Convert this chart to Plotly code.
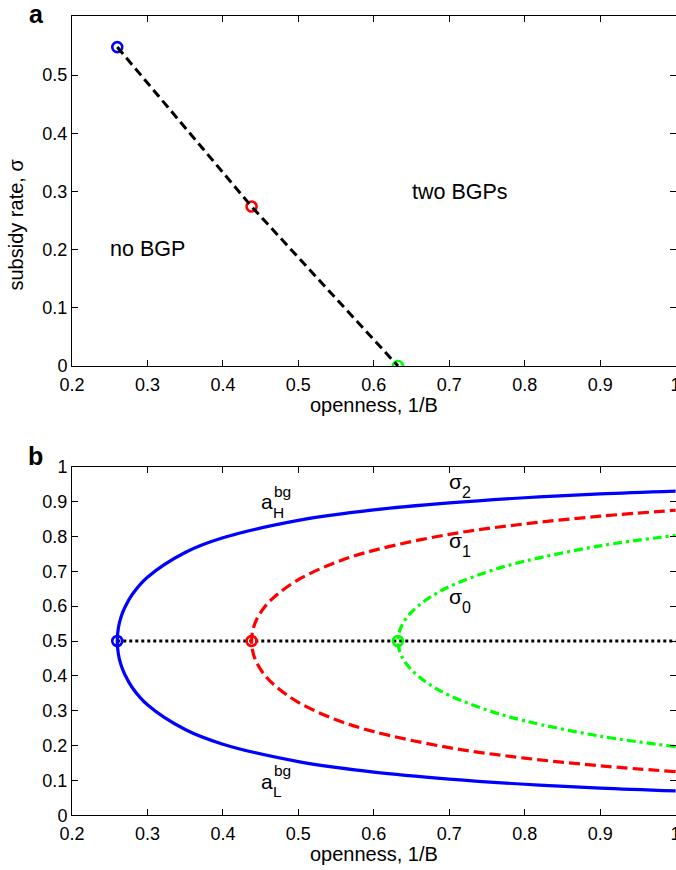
import plotly.graph_objects as go

# ---------------- data ----------------
# panel a: boundary between "no BGP" and "two BGPs"
a_openness = [0.26, 0.438, 0.632]
a_sigma = [0.548, 0.274, 0.0]
a_colors = ["#0000ff", "#ff0000", "#00ff00"]

# panel b: BGP branches a_H (upper) and a_L (lower) for three subsidy rates
blue_x = [0.26, 0.2615, 0.265, 0.27, 0.28, 0.30, 0.35, 0.40, 0.50, 0.60, 0.70, 0.80, 0.90, 1.00]
blue_upper = [0.500, 0.538, 0.569, 0.596, 0.634, 0.683, 0.754, 0.796, 0.846, 0.876, 0.896, 0.911, 0.922, 0.930]
blue_lower = [0.500, 0.462, 0.431, 0.404, 0.366, 0.317, 0.246, 0.204, 0.154, 0.124, 0.104, 0.089, 0.078, 0.070]

red_x = [0.438, 0.44, 0.445, 0.455, 0.47, 0.50, 0.55, 0.60, 0.70, 0.80, 0.90, 1.00]
red_upper = [0.500, 0.534, 0.563, 0.597, 0.630, 0.676, 0.726, 0.760, 0.806, 0.836, 0.858, 0.875]
red_lower = [0.500, 0.466, 0.437, 0.403, 0.370, 0.324, 0.274, 0.240, 0.194, 0.164, 0.142, 0.125]

green_x = [0.632, 0.634, 0.64, 0.65, 0.67, 0.70, 0.75, 0.80, 0.90, 1.00]
green_upper = [0.500, 0.528, 0.556, 0.583, 0.619, 0.656, 0.698, 0.729, 0.773, 0.803]
green_lower = [0.500, 0.472, 0.444, 0.417, 0.381, 0.344, 0.302, 0.271, 0.227, 0.197]

mid_x = [0.26, 1.0]
mid_a = [0.5, 0.5]

x_ticks = [0.2, 0.3, 0.4, 0.5, 0.6, 0.7, 0.8, 0.9, 1.0]
x_ticktext = ["0.2", "0.3", "0.4", "0.5", "0.6", "0.7", "0.8", "0.9", "1"]
ya_ticks = [0, 0.1, 0.2, 0.3, 0.4, 0.5]
ya_ticktext = ["0", "0.1", "0.2", "0.3", "0.4", "0.5"]
yb_ticks = [0, 0.1, 0.2, 0.3, 0.4, 0.5, 0.6, 0.7, 0.8, 0.9, 1.0]
yb_ticktext = ["0", "0.1", "0.2", "0.3", "0.4", "0.5", "0.6", "0.7", "0.8", "0.9", "1"]

# ---------------- figure ----------------
FONT = "Liberation Sans, Arial, Helvetica, sans-serif"
W, H = 676, 870

fig = go.Figure()

marker_style = dict(symbol="circle-open", size=10, color=a_colors,
                    line=dict(width=2.6, color=a_colors))

# panel a
fig.add_trace(go.Scatter(x=a_openness, y=a_sigma, mode="markers", marker=marker_style,
                         xaxis="x", yaxis="y", hoverinfo="skip"))
fig.add_trace(go.Scatter(x=a_openness, y=a_sigma, mode="lines",
                         line=dict(color="black", width=3, dash="9px,5px"),
                         xaxis="x", yaxis="y", hoverinfo="skip"))

# panel b
def branch(xs, lower, upper):
    return xs[::-1] + xs[1:], lower[::-1] + upper[1:]

bx, by = branch(blue_x, blue_lower, blue_upper)
rx, ry = branch(red_x, red_lower, red_upper)
gx, gy = branch(green_x, green_lower, green_upper)

fig.add_trace(go.Scatter(x=mid_x, y=mid_a, mode="lines",
                         line=dict(color="black", width=3, dash="3px,3px"),
                         xaxis="x2", yaxis="y2", hoverinfo="skip"))
fig.add_trace(go.Scatter(x=bx, y=by, mode="lines", line=dict(color="#0000ff", width=3.2, shape="spline"),
                         xaxis="x2", yaxis="y2", hoverinfo="skip"))
fig.add_trace(go.Scatter(x=rx, y=ry, mode="lines",
                         line=dict(color="#ff0000", width=3.2, dash="11px,5px", shape="spline"),
                         xaxis="x2", yaxis="y2", hoverinfo="skip"))
fig.add_trace(go.Scatter(x=gx, y=gy, mode="lines",
                         line=dict(color="#00ff00", width=3.2, dash="9px,4px,3px,4px", shape="spline"),
                         xaxis="x2", yaxis="y2", hoverinfo="skip"))
fig.add_trace(go.Scatter(x=[blue_x[0], red_x[0], green_x[0]],
                         y=[blue_upper[0], red_upper[0], green_upper[0]], mode="markers",
                         marker=marker_style, xaxis="x2", yaxis="y2", hoverinfo="skip"))

axis_common = dict(showline=True, linecolor="black", linewidth=1, mirror="ticks",
                   ticks="inside", ticklen=6, tickwidth=1, tickcolor="black",
                   showgrid=False, zeroline=False, automargin=False,
                   ticklabeloverflow="allow",
                   tickfont=dict(family=FONT, size=18, color="black"))

xdom = [72 / W, 1.0]
XR = [0.2, 1.0005]
fig.update_layout(
    width=W, height=H, margin=dict(l=0, r=0, t=0, b=0),
    paper_bgcolor="white", plot_bgcolor="white", showlegend=False,
    xaxis=dict(domain=xdom, range=XR, tickvals=x_ticks, ticktext=x_ticktext,
               anchor="y", ticklabelstandoff=2, **axis_common),
    yaxis=dict(domain=[(H - 366) / H, (H - 16) / H], range=[0, 0.6014], tickvals=ya_ticks,
               ticktext=ya_ticktext, anchor="x", **axis_common),
    xaxis2=dict(domain=xdom, range=XR, tickvals=x_ticks, ticktext=x_ticktext,
                anchor="y2", ticklabelstandoff=2, **axis_common),
    yaxis2=dict(domain=[(H - 815.3) / H, (H - 466.7) / H], range=[0, 1], tickvals=yb_ticks,
                ticktext=yb_ticktext, anchor="x2", **axis_common),
)

def ann(text, x, y, xref, yref, size, bold=False, angle=0):
    fig.add_annotation(text=("<b>%s</b>" % text) if bold else text, x=x, y=y, xref=xref, yref=yref,
                       showarrow=False, xanchor="center", yanchor="middle", textangle=angle,
                       font=dict(family=FONT, size=size, color="black"))

# panel letters and axis titles
ann("a", 36.3 / W, 1 - 14 / H, "paper", "paper", 25, bold=True)
ann("b", 35.5 / W, 1 - 456.3 / H, "paper", "paper", 25, bold=True)
ann("subsidy rate, σ", 15.5 / W, 1 - 225 / H, "paper", "paper", 20, angle=-90)
ann("openness, 1/B", 374 / W, 1 - 405 / H, "paper", "paper", 20)
ann("openness, 1/B", 374 / W, 1 - 854 / H, "paper", "paper", 20)

# panel a region labels
ann("no BGP", 0.300, 0.201, "x", "y", 21.5)
ann("two BGPs", 0.714, 0.299, "x", "y", 21.5)

# panel b curve labels
ann("a", 0.459, 0.900, "x2", "y2", 21)
ann("bg", 0.4785, 0.9294, "x2", "y2", 15.5)
ann("H", 0.4735, 0.8689, "x2", "y2", 15.5)
ann("a", 0.459, 0.0984, "x2", "y2", 21)
ann("bg", 0.4785, 0.1271, "x2", "y2", 15.5)
ann("L", 0.4722, 0.0674, "x2", "y2", 15.5)
ann("σ", 0.708, 0.958, "x2", "y2", 21)
ann("2", 0.7234, 0.9246, "x2", "y2", 16)
ann("σ", 0.708, 0.7897, "x2", "y2", 21)
ann("1", 0.7234, 0.7562, "x2", "y2", 16)
ann("σ", 0.708, 0.6282, "x2", "y2", 21)
ann("0", 0.7234, 0.5947, "x2", "y2", 16)

fig.write_html("out.html")
